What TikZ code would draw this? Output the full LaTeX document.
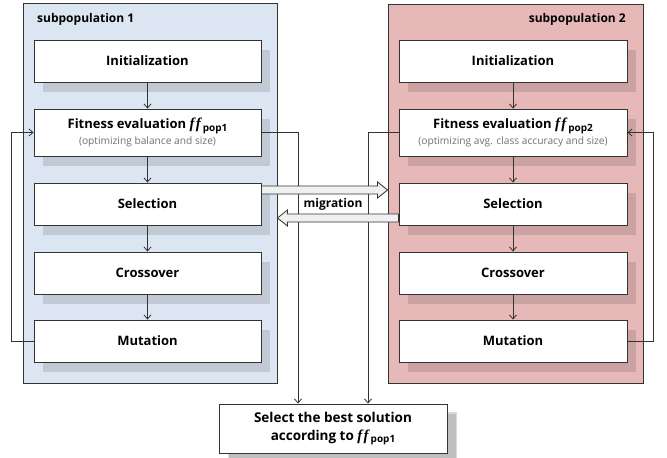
\documentclass[tikz,border=0pt]{standalone}
\usepackage{fontspec}
\setmainfont{Open Sans}
\newfontfamily\fffont{Liberation Serif}
\usetikzlibrary{shadows,arrows.meta,calc}
\definecolor{panelA}{HTML}{DCE6F2}
\definecolor{panelB}{HTML}{E6B9B8}
\definecolor{edgec}{HTML}{333333}
\definecolor{subgrey}{HTML}{707070}
\definecolor{migfill}{HTML}{F0F0F0}
\newcommand\ffsub[1]{{\fffont\bfseries\itshape\fontsize{15}{15}\selectfont f\kern1.3pt f}\kern2pt\raisebox{-0.35ex}{\fontsize{10}{10}\selectfont #1}}
\newcommand\subtfont{\normalfont\fontsize{10.2}{12}\selectfont\color{subgrey}}
\begin{document}
\begin{tikzpicture}[x=1pt,y=-1pt,
  panel/.style={draw=edgec, line width=0.9pt, inner sep=0pt},
  box/.style={draw=edgec, line width=0.9pt, fill=white, inner sep=0pt, align=center,
    font=\bfseries\fontsize{13}{14}\selectfont,
    drop shadow={shadow xshift=9pt,shadow yshift=-10pt,fill=black,opacity=0.12}},
  lbox/.style={box, minimum width=227pt},
  rbox/.style={box, minimum width=228pt},
  arr/.style={draw=edgec, line width=0.8pt, -{Straight Barb[length=4pt,width=7pt]}},
  mig/.style={draw=edgec, fill=migfill, line width=0.8pt, line join=miter},
  title/.style={font=\bfseries\fontsize{12}{14}\selectfont, inner sep=0pt}]
\useasboundingbox (0,0) rectangle (667,458);
% panels
\node[panel, fill=panelA, minimum width=254pt, minimum height=380pt] (P1) at (150,193) {};
\node[panel, fill=panelB, minimum width=255pt, minimum height=379pt] (P2) at (515.5,193.5) {};
\node[title, anchor=west] (t1) at (37,19) {subpopulation 1};
\node[title, anchor=east] (t2) at (626,19) {subpopulation 2};
% left column
\node[lbox, minimum height=42pt] (iL) at (147.5,61) {Initialization};
\node[lbox, minimum height=47pt] (fL) at (147.5,132.5) {Fitness evaluation \ffsub{pop1}\\[1.5pt]{\subtfont(optimizing balance and size)}};
\node[lbox, minimum height=42pt] (sL) at (147.5,204) {Selection};
\node[lbox, minimum height=42pt] (cL) at (147.5,273) {Crossover};
\node[lbox, minimum height=42pt] (mL) at (147.5,341) {Mutation};
% right column
\node[rbox, minimum height=42pt] (iR) at (513,61) {Initialization};
\node[rbox, minimum height=47pt] (fR) at (513,132.5) {Fitness evaluation \ffsub{pop2}\\[1.5pt]{\subtfont(optimizing avg. class accuracy and size)}};
\node[rbox, minimum height=42pt] (sR) at (513,204) {Selection};
\node[rbox, minimum height=42pt] (cR) at (513,273) {Crossover};
\node[rbox, minimum height=42pt] (mR) at (513,341) {Mutation};
% bottom
\node[box, minimum width=228pt, minimum height=49pt, font=\bfseries\fontsize{13.5}{18}\selectfont,
  drop shadow={shadow xshift=10pt,shadow yshift=-8pt,fill=black,opacity=0.15}] (bot) at (333,428.5)
  {Select the best solution\\according to \ffsub{pop1}};
% flow arrows
\draw[arr] (iL) -- (fL);
\draw[arr] (fL) -- (sL);
\draw[arr] (sL) -- (cL);
\draw[arr] (cL) -- (mL);
\draw[arr] (iR) -- (fR);
\draw[arr] (fR) -- (sR);
\draw[arr] (sR) -- (cR);
\draw[arr] (cR) -- (mR);
\draw[arr] (mL.west) -- ++(-22,0) |- (fL.west);
\draw[arr] (mR.east) -- ++(26,0) |- (fR.east);
\draw[arr] (fL.east) -| ($(bot.north)+(-35,0)$);
\draw[arr] (fR.west) -| ($(bot.north)+(35,0)$);
% migration
\coordinate (mt) at ($(P2.west |- sL.east)+(0,-14)$);
\draw[mig] ($(sL.east)+(0,-18)$) -- ($(mt)+(-10,-4)$) -- ($(mt)+(-10,-8)$) -- (mt) -- ($(mt)+(-10,8)$) -- ($(mt)+(-10,4)$) -- ($(sL.east)+(0,-10)$) -- cycle;
\coordinate (mb) at ($(P1.east |- sR.west)+(0,14)$);
\draw[mig] ($(sR.west)+(0,10)$) -- ($(mb)+(10,-4)$) -- ($(mb)+(10,-8)$) -- (mb) -- ($(mb)+(10,8)$) -- ($(mb)+(10,4)$) -- ($(sR.west)+(0,18)$) -- cycle;
\node[title] (mg) at (333,204) {migration};
\end{tikzpicture}
\end{document}
